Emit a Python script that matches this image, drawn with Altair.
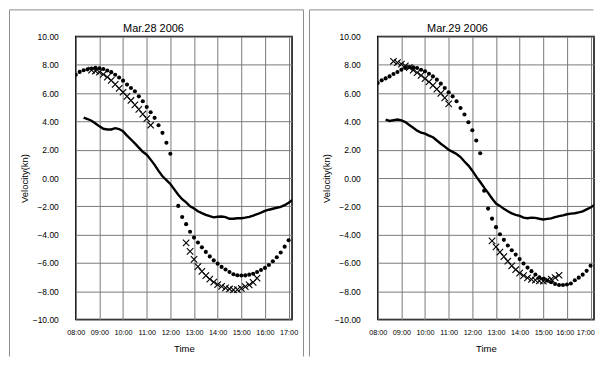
import altair as alt
import pandas as pd

FONT = "Liberation Sans"
NARROW = "Liberation Sans Narrow, Liberation Sans"

hour_labels = ["08:00", "09:00", "10:00", "11:00", "12:00", "13:00", "14:00", "15:00", "16:00", "17:00"]
y_ticks = [-10, -8, -6, -4, -2, 0, 2, 4, 6, 8, 10]

# ---------------- Mar.28 2006 ----------------
a_dot_t = ("08:00 08:10 08:20 08:30 08:40 08:50 09:00 09:10 09:20 09:30 09:40 09:50 10:00 10:10 10:20 "
           "10:30 10:40 10:50 11:00 11:10 11:20 11:30 11:40 11:50 12:00 "
           "12:20 12:30 12:40 12:50 13:00 13:10 13:20 13:30 13:40 13:50 14:00 14:10 14:20 14:30 14:40 "
           "14:50 15:00 15:10 15:20 15:30 15:40 15:50 16:00 16:10 16:20 16:30 16:40 16:50 17:00").split()
a_dot_v = [7.30, 7.50, 7.62, 7.68, 7.74, 7.78, 7.76, 7.70, 7.60, 7.48, 7.30, 7.10, 6.88, 6.60, 6.36,
           6.13, 5.77, 5.42, 5.02, 4.65, 4.25, 3.73, 3.19, 2.49, 1.71,
           -1.97, -2.75, -3.26, -3.80, -4.21, -4.56, -4.90, -5.22, -5.54, -5.82, -6.05, -6.28, -6.46, -6.64, -6.80,
           -6.87, -6.89, -6.88, -6.83, -6.76, -6.64, -6.50, -6.35, -6.15, -5.88, -5.60, -5.26, -4.85, -4.40]

a_x_t = ("08:40 08:50 09:00 09:10 09:20 09:30 09:40 09:50 10:00 10:10 10:20 10:30 10:40 10:50 11:00 11:10 "
         "12:40 12:50 13:00 13:10 13:20 13:30 13:40 13:50 14:00 14:10 14:20 14:30 14:40 14:50 15:00 15:10 "
         "15:20 15:30 15:40").split()
a_x_v = [7.62, 7.56, 7.48, 7.33, 7.13, 6.90, 6.62, 6.34, 6.06, 5.77, 5.48, 5.17, 4.85, 4.52, 4.20, 3.73,
         -4.58, -5.18, -5.75, -6.26, -6.60, -6.90, -7.15, -7.35, -7.53, -7.66, -7.76, -7.84, -7.90, -7.88,
         -7.80, -7.68, -7.55, -7.38, -7.08]

line_t = ("08:20 08:30 08:40 08:50 09:00 09:10 09:20 09:30 09:40 09:50 10:00 10:10 10:20 10:30 10:40 10:50 "
          "11:00 11:10 11:20 11:30 11:40 11:50 12:00 12:10 12:20 12:30 12:40 12:50 13:00 13:10 13:20 13:30 "
          "13:40 13:50 14:00 14:10 14:20 14:30 14:40 14:50 15:00 15:10 15:20 15:30 15:40 15:50 16:00 16:10 "
          "16:20 16:30 16:40 16:50 17:00 17:10").split()
a_line_v = [4.27, 4.17, 4.05, 3.85, 3.65, 3.48, 3.43, 3.43, 3.52, 3.46, 3.30, 3.00, 2.72, 2.45, 2.15, 1.85,
            1.65, 1.30, 0.93, 0.50, 0.12, -0.15, -0.42, -0.80, -1.18, -1.50, -1.72, -2.00, -2.15, -2.35, -2.48, -2.60,
            -2.70, -2.78, -2.74, -2.72, -2.76, -2.88, -2.88, -2.84, -2.84, -2.80, -2.74, -2.66, -2.56, -2.45, -2.32, -2.24,
            -2.17, -2.10, -2.04, -1.92, -1.75, -1.55]

# ---------------- Mar.29 2006 ----------------
b_dot_t = ("08:00 08:10 08:20 08:30 08:40 08:50 09:00 09:10 09:20 09:30 09:40 09:50 10:00 10:10 10:20 "
           "10:30 10:40 10:50 11:00 11:10 11:20 11:30 11:40 11:50 12:00 12:10 12:20 "
           "12:30 12:40 12:50 13:00 13:10 13:20 13:30 13:40 13:50 14:00 14:10 14:20 14:30 14:40 "
           "14:50 15:00 15:10 15:20 15:30 15:40 15:50 16:00 16:10 16:20 16:30 16:40 16:50 17:00").split()
b_dot_v = [6.71, 6.90, 7.04, 7.18, 7.35, 7.49, 7.65, 7.77, 7.84, 7.82, 7.77, 7.65, 7.54, 7.37, 7.18,
           6.95, 6.67, 6.36, 6.06, 5.77, 5.42, 4.95, 4.49, 3.94, 3.38, 2.65, 1.75,
           -0.90, -2.16, -2.87, -3.47, -3.97, -4.37, -4.77, -5.10, -5.41, -5.73, -6.04, -6.33, -6.58, -6.82,
           -7.02, -7.13, -7.25, -7.37, -7.49, -7.56, -7.56, -7.52, -7.45, -7.22, -7.04, -6.83, -6.56, -6.20]

b_x_t = ("08:40 08:50 09:00 09:10 09:20 09:30 09:40 09:50 10:00 10:10 10:20 10:30 10:40 10:50 11:00 "
         "12:50 13:00 13:10 13:20 13:30 13:40 13:50 14:00 14:10 14:20 14:30 14:40 14:50 15:00 15:10 "
         "15:20 15:30 15:40").split()
b_x_v = [8.25, 8.15, 8.05, 7.93, 7.80, 7.62, 7.45, 7.25, 7.02, 6.80, 6.55, 6.28, 5.98, 5.66, 5.24,
         -4.44, -4.87, -5.23, -5.55, -5.88, -6.20, -6.48, -6.72, -6.90, -7.06, -7.16, -7.22, -7.27, -7.28,
         -7.22, -7.14, -7.04, -6.87]

b_line_v = [4.12, 4.03, 4.08, 4.13, 4.08, 3.95, 3.75, 3.55, 3.35, 3.20, 3.14, 3.00, 2.88, 2.65, 2.42, 2.22,
            2.00, 1.85, 1.70, 1.48, 1.17, 0.88, 0.52, 0.10, -0.28, -0.68, -1.05, -1.45, -1.80, -1.97, -2.18, -2.35,
            -2.50, -2.60, -2.68, -2.80, -2.84, -2.80, -2.82, -2.88, -2.93, -2.89, -2.85, -2.77, -2.69, -2.64, -2.56, -2.52,
            -2.49, -2.43, -2.36, -2.22, -2.08, -1.90]


def hm(s):
    h, m = s.split(":")
    return int(h) + int(m) / 60.0


H = 284
FRAME_TOP = -26.7
FRAME_BOTTOM = H + 37


def frame(x1, x2, draw_right, color="#8c8c8c"):
    one = alt.Data(values=[{}])
    parts = [
        alt.Chart(one).mark_rule(color=color, strokeWidth=1).encode(
            x=alt.value(x1), y=alt.value(FRAME_TOP), y2=alt.value(FRAME_BOTTOM)),
        alt.Chart(one).mark_rule(color=color, strokeWidth=1).encode(
            x=alt.value(x1), x2=alt.value(x2), y=alt.value(FRAME_TOP)),
    ]
    if draw_right:
        parts.append(alt.Chart(one).mark_rule(color=color, strokeWidth=1).encode(
            x=alt.value(x2), y=alt.value(FRAME_TOP), y2=alt.value(FRAME_BOTTOM)))
    return parts


label_expr = "[" + ",".join("'%s'" % s for s in hour_labels) + "][round(datum.value) - 8]"


def panel(title, dot_t, dot_v, x_t, x_v, ln_t, ln_v, width, fx1, fx2, draw_right, title_x, flush_last):
    dots = pd.DataFrame({"t": [hm(s) for s in dot_t], "v": dot_v})
    crosses = pd.DataFrame({"t": [hm(s) for s in x_t], "v": x_v})
    line = pd.DataFrame({"t": [hm(s) for s in ln_t], "v": ln_v})

    xsc = alt.Scale(domain=[8, 17.145], nice=False, zero=False)
    ysc = alt.Scale(domain=[-10, 10], nice=False, zero=False)
    extra = {}
    if flush_last:
        extra = dict(
            labelAlign={"condition": {"test": "datum.value >= 17", "value": "right"}, "value": "center"},
            labelOffset={"condition": {"test": "datum.value >= 17", "value": 3.8},
                         "value": {"expr": "0"}} if False else
            {"condition": [{"test": "datum.value >= 17", "value": 3.8},
                           {"test": "datum.value >= 16 && datum.value < 17", "value": -2.2}],
             "value": 0},
        )
    xax = alt.Axis(values=[hm(s) for s in hour_labels], labelExpr=label_expr, title="Time",
                   grid=True, gridColor="#7a7a7a", gridWidth=1, ticks=False, domain=False,
                   labelPadding=9, labelFont=NARROW, labelFontSize=7.3, labelColor="black",
                   labelFlush=False, labelOverlap=False,
                   titleFont=FONT, titleFontSize=9.5, titleFontWeight="normal", titleColor="black",
                   titleX=width / 2, titleY=32.5, titleBaseline="alphabetic", **extra)
    yax = alt.Axis(values=y_ticks, format=".2f", title="Velocity(kn)",
                   grid=True, gridColor="#7a7a7a", gridWidth=1, ticks=False, domain=False,
                   labelPadding=17.5, labelFont=FONT, labelFontSize=8.5, labelColor="black",
                   labelFlush=False, labelOverlap=False,
                   titleFont=FONT, titleFontSize=9.5, titleFontWeight="normal", titleColor="black",
                   titleX=-51, titleY=H / 2, titleBaseline="middle", titleAngle=270)
    X = alt.X("t:Q", scale=xsc, axis=xax)
    Y = alt.Y("v:Q", scale=ysc, axis=yax)

    l_line = alt.Chart(line).mark_line(color="black", strokeWidth=2.4, clip=True).encode(x=X, y=Y)
    l_dots = alt.Chart(dots).mark_circle(color="black", size=17, opacity=1, clip=True).encode(x=X, y=Y)
    l_x = alt.Chart(crosses).mark_point(shape="M-1,-1L1,1M-1,1L1,-1", size=42, filled=False,
                                        color="black", strokeWidth=1.1, opacity=1).encode(x=X, y=Y)
    one = alt.Data(values=[{}])
    l_title = alt.Chart(one).mark_text(text=title, font=FONT, fontSize=11, color="black",
                                       baseline="alphabetic", align="center").encode(
        x=alt.value(title_x), y=alt.value(-4.5))
    layers = frame(fx1, fx2, draw_right) + [l_line, l_dots, l_x, l_title]
    return alt.layer(*layers).properties(width=width, height=H)


left = panel("Mar.28 2006", a_dot_t, a_dot_v, a_x_t, a_x_v, line_t, a_line_v,
             217, -66.5, 228.5, True, 78, False)
right = panel("Mar.29 2006", b_dot_t, b_dot_v, b_x_t, b_x_v, line_t, b_line_v,
              217, -68.5, 216.5, False, 80, True)

chart = alt.hconcat(left, right, spacing=86, bounds="flush").properties(padding=0).configure_view(
    stroke="black", strokeWidth=1.5)

chart.save("out.html", embed_options={"renderer": "svg", "actions": False})
